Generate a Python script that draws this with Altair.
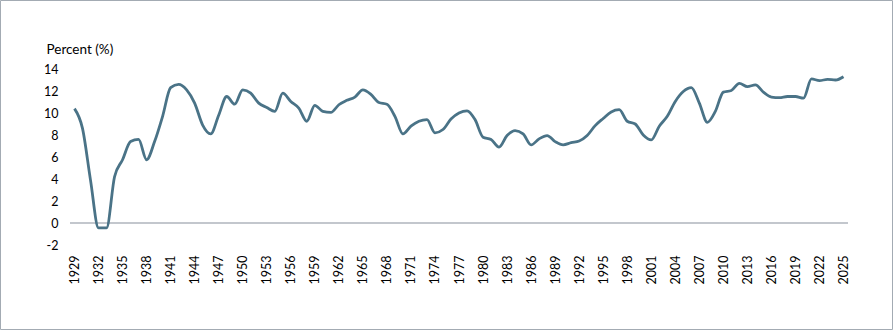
import altair as alt
import pandas as pd

# Annual rate, 1929-2025
years = list(range(1929, 2026))
rate = [
    10.4, 8.6, 3.9, -0.45, -0.45, 4.2, 5.75, 7.4, 7.6, 5.75,
    7.4, 9.7, 12.3, 12.6, 12.1, 10.9, 8.9, 8.1, 9.8, 11.5,
    10.8, 12.1, 11.8, 10.9, 10.5, 10.15, 11.8, 11.05, 10.45, 9.25,
    10.7, 10.15, 10.05, 10.75, 11.15, 11.45, 12.1, 11.7, 10.95, 10.8,
    9.7, 8.1, 8.8, 9.25, 9.4, 8.2, 8.5, 9.45, 10.0, 10.2,
    9.4, 7.8, 7.6, 6.9, 7.95, 8.4, 8.1, 7.1, 7.65, 7.95,
    7.4, 7.1, 7.3, 7.45, 7.95, 8.85, 9.5, 10.1, 10.3, 9.25,
    9.0, 8.0, 7.55, 8.8, 9.7, 11.05, 11.95, 12.3, 10.9, 9.15,
    10.15, 11.9, 12.05, 12.7, 12.4, 12.55, 11.9, 11.45, 11.4, 11.5,
    11.5, 11.35, 13.1, 12.95, 13.05, 13.0, 13.3,
]
x_ticks = list(range(1929, 2026, 3))
y_ticks = list(range(-2, 15, 2))
zero = [0]

df = pd.DataFrame({"year": years, "rate": rate})
zero_df = pd.DataFrame({"rate": zero})

W, H = 778, 176
FONT = "Lato"
LINE_COLOR = "#4a7387"

x_scale = alt.Scale(domain=[1928.44, 2025.56], nice=False, zero=False)
y_scale = alt.Scale(domain=[-2, 14], nice=False)

x_axis = alt.Axis(values=x_ticks, format="d", labelAngle=270,
                  ticks=False, domain=False, grid=False,
                  labelPadding=10, labelOverlap=False,
                  labelFont=FONT, labelFontSize=12.5,
                  labelColor="#000000", title=None)
y_axis = alt.Axis(values=y_ticks, ticks=False, domain=False,
                  grid=False, labelPadding=12, labelOverlap=False,
                  labelExpr="'' + datum.value",
                  labelFont=FONT, labelFontSize=12.5,
                  labelColor="#000000",
                  title="Percent (%)", titleAngle=0,
                  titleAlign="left", titleBaseline="alphabetic",
                  titleX=-24, titleY=-16, titleFontWeight="normal",
                  titleFont=FONT, titleFontSize=13.5,
                  titleColor="#000000")

# zero baseline, drawn beneath the series
zero_rule = alt.Chart(zero_df).mark_rule(color="#c3c7cd", strokeWidth=2).encode(
    y=alt.Y("rate:Q", scale=y_scale, axis=y_axis),
    x=alt.value(0),
    x2=alt.value(W),
)

line = alt.Chart(df).mark_line(
    color=LINE_COLOR, strokeWidth=2.8, interpolate="monotone"
).encode(
    x=alt.X("year:Q", scale=x_scale, axis=x_axis),
    y=alt.Y("rate:Q", scale=y_scale, axis=y_axis),
)

# thin frame around the whole figure
frame = alt.Chart(zero_df).mark_rect(
    filled=False, stroke="#a3abb3", strokeWidth=1
).encode(
    x=alt.value(-69.5), x2=alt.value(W + 44.5),
    y=alt.value(-68.5), y2=alt.value(H + 84.5),
)

chart = alt.layer(zero_rule, line, frame).properties(
    width=W, height=H,
    background="white",
    autosize=alt.AutoSizeParams(type="none"),
    padding={"left": 70, "top": 69, "right": 45, "bottom": 85},
).configure_view(strokeWidth=0, stroke=None)

chart.save("out.html", embed_options={"renderer": "svg", "actions": False})
